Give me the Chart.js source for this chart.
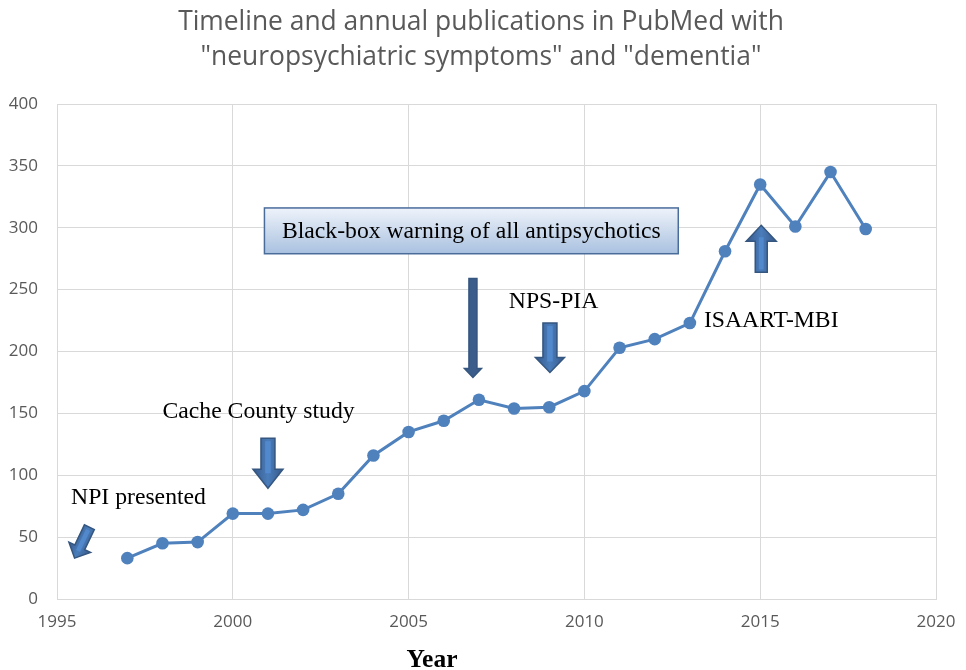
<!DOCTYPE html>
<html>
<head>
<meta charset="utf-8">
<script src="https://cdn.jsdelivr.net/npm/chart.js@4/dist/chart.umd.min.js"></script>
<style>
  html, body { margin: 0; padding: 0; background: #ffffff; }
  #wrap { width: 966px; height: 670px; position: relative; }
</style>
</head>
<body>
<div id="wrap"><canvas id="chart" width="966" height="670"></canvas></div>
<script>
// Annual PubMed publications for "neuropsychiatric symptoms" AND "dementia"
const years = [1997, 1998, 1999, 2000, 2001, 2002, 2003, 2004, 2005, 2006, 2007,
               2008, 2009, 2010, 2011, 2012, 2013, 2014, 2015, 2016, 2017, 2018];
const publications = [33, 45, 46, 69, 69, 72, 85, 116, 135, 144, 161,
                      154, 155, 168, 203, 210, 223, 281, 335, 301, 345, 299];

const xTicks = [1995, 2000, 2005, 2010, 2015, 2020];
const yTicks = [0, 50, 100, 150, 200, 250, 300, 350, 400];

const titleLines = ['Timeline and annual publications in PubMed with',
                    '"neuropsychiatric symptoms" and "dementia"'];
const xAxisTitle = 'Year';

// Timeline milestones (year, value) in data units
const milestoneLabels = [
  { text: 'NPI presented',      x: 1995.4,  y: 82 },
  { text: 'Cache County study', x: 1998.0,  y: 151 },
  { text: 'NPS-PIA',            x: 2007.85, y: 240 },
  { text: 'ISAART-MBI',         x: 2013.4,  y: 225 }
];
const blackBox = { text: 'Black-box warning of all antipsychotics',
                   x0: 2000.9, x1: 2012.67, y0: 279, y1: 316 };
const milestoneArrows = [
  { from: [1995.92, 58],  to: [1995.5, 33],  shaft: 11, head: 24, headLen: 12, flat: false },
  { from: [2001, 130],    to: [2001, 89.5],  shaft: 14, head: 30, headLen: 19, flat: false },
  { from: [2006.83, 259], to: [2006.83, 179], shaft: 8, head: 17, headLen: 9,  flat: true },
  { from: [2009.02, 223], to: [2009.02, 183], shaft: 14, head: 29, headLen: 15, flat: false },
  { from: [2015.03, 264], to: [2015.03, 302], shaft: 12, head: 30, headLen: 16, flat: false }
];

function drawArrow(ctx, T, P, a) {
  const dx = P[0] - T[0], dy = P[1] - T[1];
  const len = Math.hypot(dx, dy);
  const ux = dx / len, uy = dy / len;
  const nx = -uy, ny = ux;
  const B = [P[0] - ux * a.headLen, P[1] - uy * a.headLen];
  const s = a.shaft / 2, h = a.head / 2;
  const pts = [
    [T[0] + nx * s, T[1] + ny * s],
    [B[0] + nx * s, B[1] + ny * s],
    [B[0] + nx * h, B[1] + ny * h],
    [P[0], P[1]],
    [B[0] - nx * h, B[1] - ny * h],
    [B[0] - nx * s, B[1] - ny * s],
    [T[0] - nx * s, T[1] - ny * s]
  ];
  ctx.save();
  ctx.beginPath();
  pts.forEach((p, i) => i ? ctx.lineTo(p[0], p[1]) : ctx.moveTo(p[0], p[1]));
  ctx.closePath();
  if (a.flat) {
    ctx.fillStyle = '#3b5d8b';
  } else {
    const g = ctx.createLinearGradient(T[0] + nx * h, T[1] + ny * h, T[0] - nx * h, T[1] - ny * h);
    g.addColorStop(0, '#38598a');
    g.addColorStop(0.5, '#4a7dbb');
    g.addColorStop(1, '#38598a');
    ctx.fillStyle = g;
  }
  ctx.fill();
  ctx.lineWidth = 1.5;
  ctx.strokeStyle = '#35567f';
  ctx.stroke();
  if (!a.flat) {
    // lighter centre stripe along the shaft
    ctx.beginPath();
    ctx.moveTo(T[0] + ux * 3, T[1] + uy * 3);
    ctx.lineTo(B[0] + ux * 4, B[1] + uy * 4);
    ctx.lineWidth = a.shaft * 0.4;
    ctx.strokeStyle = '#5189cc';
    ctx.stroke();
  }
  ctx.restore();
}

const decorations = {
  id: 'decorations',
  afterDraw(chart) {
    const { ctx, scales: { x, y } } = chart;
    ctx.save();
    // Title
    ctx.fillStyle = '#595959';
    ctx.font = '26.4px "Open Sans"';
    ctx.textAlign = 'center';
    ctx.textBaseline = 'middle';
    ctx.fillText(titleLines[0], 481, 22);
    ctx.fillText(titleLines[1], 481, 57);

    // X axis title
    ctx.fillStyle = '#000000';
    ctx.font = 'bold 25.5px "Liberation Serif"';
    ctx.fillText(xAxisTitle, 432, 660);

    // Black-box warning box
    const bx0 = x.getPixelForValue(blackBox.x0), bx1 = x.getPixelForValue(blackBox.x1);
    const by0 = y.getPixelForValue(blackBox.y1), by1 = y.getPixelForValue(blackBox.y0);
    const g = ctx.createLinearGradient(0, by0, 0, by1);
    g.addColorStop(0, '#eef3fa');
    g.addColorStop(1, '#a9c1e0');
    ctx.fillStyle = g;
    ctx.fillRect(bx0, by0, bx1 - bx0, by1 - by0);
    ctx.lineWidth = 1.5;
    ctx.strokeStyle = '#4a6c9b';
    ctx.strokeRect(bx0, by0, bx1 - bx0, by1 - by0);
    ctx.fillStyle = '#000000';
    ctx.font = '23.7px "Liberation Serif"';
    ctx.textAlign = 'center';
    ctx.fillText(blackBox.text, (bx0 + bx1) / 2, (by0 + by1) / 2 + 1);

    // Milestone labels
    ctx.textAlign = 'left';
    milestoneLabels.forEach(l => {
      ctx.fillText(l.text, x.getPixelForValue(l.x), y.getPixelForValue(l.y));
    });

    // Milestone arrows
    milestoneArrows.forEach(a => {
      drawArrow(ctx,
        [x.getPixelForValue(a.from[0]), y.getPixelForValue(a.from[1])],
        [x.getPixelForValue(a.to[0]), y.getPixelForValue(a.to[1])], a);
    });
    ctx.restore();
  }
};

new Chart(document.getElementById('chart'), {
  type: 'line',
  data: {
    datasets: [{
      data: years.map((yr, i) => ({ x: yr, y: publications[i] })),
      borderColor: '#4f81bd',
      backgroundColor: '#4f81bd',
      borderWidth: 3,
      pointRadius: 6.3,
      pointHoverRadius: 6.3,
      pointBorderWidth: 0,
      tension: 0
    }]
  },
  options: {
    responsive: false,
    animation: false,
    layout: { padding: { top: 104, right: 30, left: 0, bottom: 0 } },
    plugins: { legend: { display: false }, tooltip: { enabled: false }, title: { display: false } },
    scales: {
      x: {
        type: 'linear',
        min: 1995, max: 2020,
        afterBuildTicks: s => { s.ticks = xTicks.map(v => ({ value: v })); },
        afterFit: s => { s.height = 71; s.paddingLeft = 0; s.paddingRight = 0; },
        grid: { color: '#d9d9d9', lineWidth: 1, drawTicks: false },
        border: { color: '#d9d9d9', width: 1 },
        ticks: { color: '#595959', font: { family: 'Open Sans', size: 17 }, padding: 13, maxRotation: 0,
                 callback: v => String(v) }
      },
      y: {
        min: 0, max: 400,
        afterBuildTicks: s => { s.ticks = yTicks.map(v => ({ value: v })); },
        afterFit: s => { s.width = 57; s.paddingTop = 0; s.paddingBottom = 0; },
        grid: { color: '#d9d9d9', lineWidth: 1, drawTicks: false },
        border: { color: '#d9d9d9', width: 1 },
        ticks: { color: '#595959', font: { family: 'Open Sans', size: 17 }, padding: 19 }
      }
    }
  },
  plugins: [decorations]
});
</script>
</body>
</html>
